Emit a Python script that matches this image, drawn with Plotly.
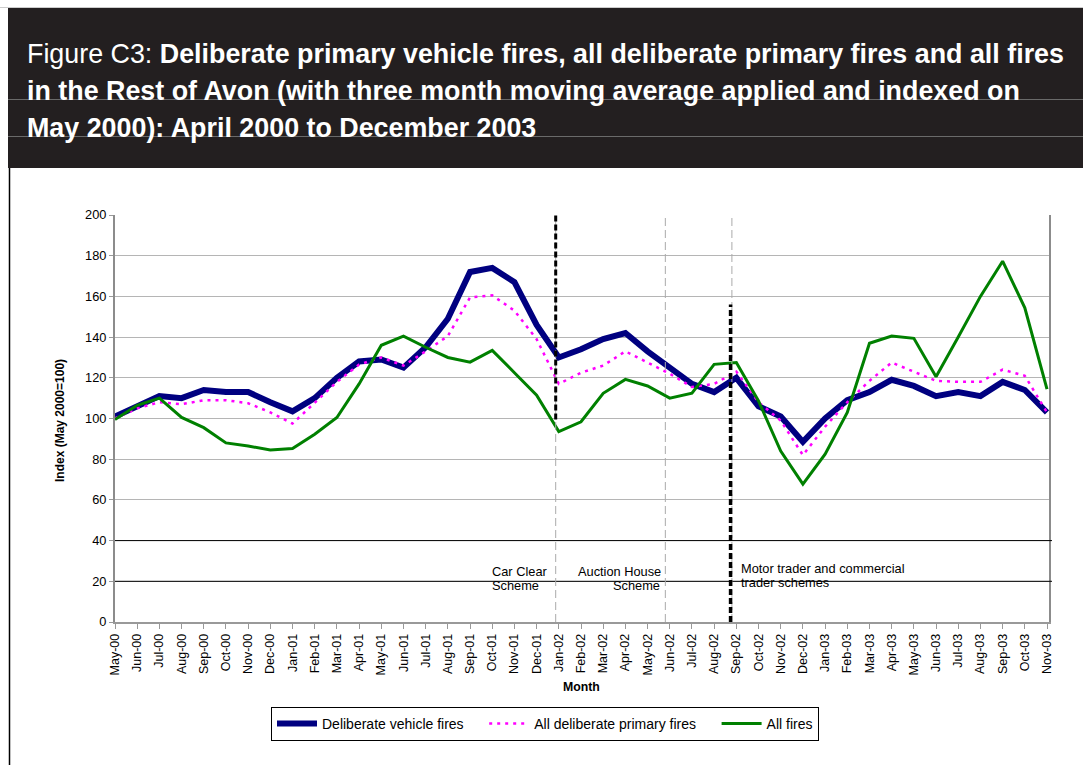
import plotly.graph_objects as go

months = ["May-00", "Jun-00", "Jul-00", "Aug-00", "Sep-00", "Oct-00", "Nov-00", "Dec-00",
          "Jan-01", "Feb-01", "Mar-01", "Apr-01", "May-01", "Jun-01", "Jul-01", "Aug-01",
          "Sep-01", "Oct-01", "Nov-01", "Dec-01",
          "Jan-02", "Feb-02", "Mar-02", "Apr-02", "May-02", "Jun-02", "Jul-02", "Aug-02",
          "Sep-02", "Oct-02", "Nov-02", "Dec-02",
          "Jan-03", "Feb-03", "Mar-03", "Apr-03", "May-03", "Jun-03", "Jul-03", "Aug-03",
          "Sep-03", "Oct-03", "Nov-03"]

vehicle = [101, 106, 111, 110, 114, 113, 113, 108,
           103.5, 110, 120, 128, 129, 125, 135, 149, 172, 174, 167, 146,
           130, 134, 139, 142, 133, 125, 117, 113, 120, 106, 101, 88.5,
           100, 109, 113, 119, 116, 111, 113, 111, 118, 114, 103]

primary = [100, 105, 108, 107, 109, 109, 107.5, 103,
           97.5, 108, 118, 126.5, 130, 126, 133, 140.5, 159.5, 160.5, 153, 139,
           117, 122.5, 126, 133, 127.5, 122, 115.5, 117, 123, 108, 99, 82,
           96, 108, 118.5, 127.5, 123, 118.5, 118, 118, 124, 121, 103]

allfires = [99.5, 106.5, 110, 100.5, 95.5, 88, 86.5, 84.5,
            85.3, 92.3, 100.5, 117, 136, 140.5, 135, 130, 127.7, 133.5, 122.5, 111.5,
            93.6, 98.4, 112.4, 119.2, 116, 110, 112.4, 126.6, 127.5, 108.6, 84, 67.8,
            82.5, 103, 137, 140.5, 139.4, 120.5, 140, 160, 177.3, 154.4, 114.4]

series_names = ["Deliberate vehicle fires", "All deliberate primary fires", "All fires"]
y_ticks = [0, 20, 40, 60, 80, 100, 120, 140, 160, 180, 200]

title_lines = ["Figure C3: <b>Deliberate primary vehicle fires, all deliberate primary fires and all fires</b>",
               "<b>in the Rest of Avon (with three month moving average applied and indexed on</b>",
               "<b>May 2000): April 2000 to December 2003</b>"]

W, H = 1083, 765
L, R, T, B = 115, 34, 215, 143
PW = W - L - R
PH = H - T - B


def px(x):
    return (x - L) / PW


def py(y):
    return (H - B - y) / PH


FONT = "Liberation Sans, Arial, sans-serif"
PAD = "\u00a0" * 4

fig = go.Figure()
fig.add_trace(go.Scatter(x=months, y=vehicle, mode="lines", name=series_names[0] + PAD,
                         line=dict(color="#000080", width=6)))
fig.add_trace(go.Scatter(x=months, y=primary, mode="lines", name=series_names[1] + PAD,
                         line=dict(color="#FF00FF", width=2.5, dash="3px,5px")))
fig.add_trace(go.Scatter(x=months, y=allfires, mode="lines", name=series_names[2],
                         line=dict(color="#008000", width=3)))

shapes = []
# header
shapes.append(dict(type="rect", xref="paper", yref="paper", x0=px(8), x1=px(1083), y0=py(168), y1=py(8),
                   fillcolor="#231f20", line=dict(width=0), layer="below"))
shapes.append(dict(type="line", xref="paper", yref="paper", x0=px(0), x1=px(1083), y0=py(7.5), y1=py(7.5),
                   line=dict(color="#cccccc", width=1)))
for yy in (99.5, 136.5):
    shapes.append(dict(type="line", xref="paper", yref="paper", x0=px(8), x1=px(1083), y0=py(yy), y1=py(yy),
                       line=dict(color="#6a6a6a", width=1)))
# page left border
shapes.append(dict(type="line", xref="paper", yref="paper", x0=px(9.5), x1=px(9.5), y0=py(168), y1=py(765),
                   line=dict(color="#000000", width=1.5)))
# black gridlines at 20 and 40
for v in (20, 40):
    shapes.append(dict(type="line", xref="paper", yref="y", x0=0, x1=px(1052), y0=v, y1=v,
                       line=dict(color="#000000", width=1)))
# gray dashed scheme lines
for xv in (19.86, 24.80, 27.80):
    shapes.append(dict(type="line", xref="x", yref="y", x0=xv, x1=xv, y0=0, y1=200,
                       line=dict(color="#aaaaaa", width=1, dash="8px,4px")))
# black thick dashed lines
shapes.append(dict(type="line", xref="x", yref="y", x0=19.86, x1=19.86, y0=99.5, y1=200,
                   line=dict(color="#000000", width=3, dash="6px,3px")))
shapes.append(dict(type="line", xref="x", yref="y", x0=27.74, x1=27.74, y0=0, y1=156,
                   line=dict(color="#000000", width=3.5, dash="6px,3px")))

annotations = []
for i, (txt, yc) in enumerate(zip(title_lines, (54, 91, 128))):
    annotations.append(dict(text=txt, xref="paper", yref="paper", x=px(25), y=py(yc),
                            xanchor="left", yanchor="middle", showarrow=False,
                            font=dict(family=FONT, size=26.85, color="#ffffff")))
annotations.append(dict(text="<b>Index (May 2000=100)</b>", xref="paper", yref="paper", x=px(60), y=py(421),
                        xanchor="center", yanchor="middle", textangle=-90, showarrow=False,
                        font=dict(family=FONT, size=12, color="#000000")))
annotations.append(dict(text="<b>Month</b>", xref="paper", yref="paper", x=px(581), y=py(687),
                        xanchor="center", yanchor="middle", showarrow=False,
                        font=dict(family=FONT, size=12.3, color="#000000")))
notes = [("Car Clear", 490, 571, "left"), ("Scheme", 490, 585, "left"),
         ("Auction House", 663, 571, "right"), ("Scheme", 662, 585, "right"),
         ("Motor trader and commercial", 739, 568, "left"), ("trader schemes", 739, 582, "left")]
for txt, xx, yy, anc in notes:
    annotations.append(dict(text=txt, xref="paper", yref="paper", x=px(xx), y=py(yy),
                            xanchor=anc, yanchor="middle", showarrow=False,
                            font=dict(family=FONT, size=12.8, color="#000000")))

fig.update_layout(
    width=W, height=H,
    margin=dict(l=L, r=R, t=T, b=B, pad=0),
    paper_bgcolor="#ffffff", plot_bgcolor="#ffffff",
    font=dict(family=FONT, size=12.5, color="#000000"),
    shapes=shapes, annotations=annotations,
    showlegend=True,
    legend=dict(orientation="h", x=px(545), y=py(707), xanchor="center", yanchor="top",
                bordercolor="#000000", borderwidth=1, bgcolor="#ffffff",
                font=dict(family=FONT, size=14, color="#000000"),
                itemwidth=40, tracegroupgap=0),
    xaxis=dict(type="category", range=[0, 42.09], showgrid=False, zeroline=False,
               showline=True, linecolor="#999999", linewidth=1.5,
               ticks="outside", ticklen=5, tickcolor="#999999", tickangle=-90,
               tickfont=dict(family=FONT, size=12.5, color="#000000")),
    yaxis=dict(range=[0, 200], tickvals=y_ticks, showgrid=True, gridcolor="#b5b5b5", gridwidth=1,
               zeroline=False, showline=True, linecolor="#8c8c8c", linewidth=2, mirror=True,
               ticks="outside", ticklen=4, tickcolor="#999999",
               tickfont=dict(family=FONT, size=12.8, color="#000000")),
)

fig.write_html("out.html")
